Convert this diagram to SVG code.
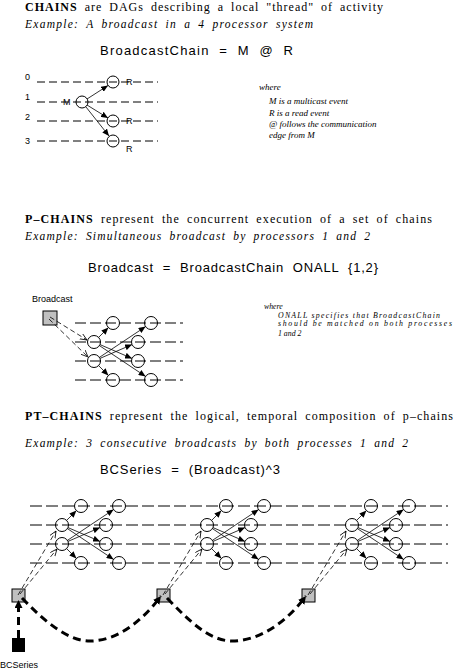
<svg xmlns="http://www.w3.org/2000/svg" xmlns:xlink="http://www.w3.org/1999/xlink" width="458" height="669" viewBox="0 0 458 669">
<style>
.hd{font-family:"Liberation Serif",serif;font-size:12px;fill:#000;word-spacing:3px}
.ex{font-family:"Liberation Serif",serif;font-style:italic;font-size:11.5px;fill:#000;word-spacing:3px}
.fm{font-family:"Liberation Sans",Arial,sans-serif;font-size:13px;fill:#000;white-space:pre}
.sm{font-family:"Liberation Sans",Arial,sans-serif;font-size:9px;fill:#000}
.wh{font-family:"Liberation Serif",serif;font-style:italic;font-size:9px;fill:#000}
.wh2{font-family:"Liberation Serif",serif;font-style:italic;font-size:7.8px;fill:#000}
.row{stroke:#000;stroke-width:1;fill:none}
.ev{stroke:#000;stroke-width:1;fill:none}
.arr{stroke:#000;stroke-width:0.8;fill:none;marker-end:url(#ah)}
.darr{stroke:#000;stroke-width:0.8;fill:none;stroke-dasharray:5 3;marker-end:url(#oh)}
.thick{stroke:#000;stroke-width:3;fill:none;stroke-dasharray:8 5;marker-end:url(#bh)}
.box{fill:#c0c0c0;stroke:#000;stroke-width:1}
</style>
<defs>
<marker id="ah" markerUnits="userSpaceOnUse" markerWidth="8" markerHeight="6" refX="7" refY="3" orient="auto"><path d="M0,0 L7,3 L0,6 z" fill="#000"/></marker>
<marker id="oh" markerUnits="userSpaceOnUse" markerWidth="9" markerHeight="8" refX="7" refY="3" orient="auto"><path d="M0,0 L7,3 L0,6" fill="none" stroke="#000" stroke-width="0.8"/></marker>
<marker id="bh" markerUnits="userSpaceOnUse" markerWidth="10" markerHeight="8" refX="8" refY="4" orient="auto"><path d="M0,0 L8,4 L0,8 z" fill="#000"/></marker>
<g id="pchainTpl">
<g class="ev"><circle cx="19" cy="-19" r="6.5"/><circle cx="57" cy="-19" r="6.5"/><circle cx="0" cy="0" r="6.5"/><circle cx="44" cy="0" r="6.5"/><circle cx="0" cy="19" r="6.5"/><circle cx="44" cy="19" r="6.5"/><circle cx="19" cy="38" r="6.5"/><circle cx="57" cy="38" r="6.5"/></g>
<g>
<line class="arr" x1="4.6" y1="-4.6" x2="14.4" y2="-14.4"/>
<line class="arr" x1="6" y1="2.6" x2="38" y2="16.4"/>
<line class="arr" x1="5.4" y1="3.6" x2="51.6" y2="34.4"/>
<line class="arr" x1="4.6" y1="23.6" x2="14.4" y2="33.4"/>
<line class="arr" x1="6" y1="16.4" x2="38" y2="2.6"/>
<line class="arr" x1="5.4" y1="15.4" x2="51.6" y2="-15.4"/>
</g>
</g>
</defs>
<rect width="458" height="669" fill="#fff"/>

<!-- Section 1 -->
<text class="hd" x="25" y="11" textLength="358" lengthAdjust="spacing"><tspan font-weight="bold">CHAINS</tspan> are DAGs describing a local "thread" of activity</text>
<text class="ex" x="25" y="28" textLength="288" lengthAdjust="spacing">Example:  A broadcast in a 4 processor system</text>
<text class="fm" x="100" y="55" textLength="193" lengthAdjust="spacing" xml:space="preserve">BroadcastChain  =  M  @  R</text>

<g id="chain1-rows">
<line class="row" x1="37" y1="82" x2="158" y2="82" stroke-dasharray="8 4"/>
<line class="row" x1="37" y1="102" x2="158" y2="102" stroke-dasharray="8 4"/>
<line class="row" x1="37" y1="121" x2="158" y2="121" stroke-dasharray="8 4"/>
<line class="row" x1="37" y1="141" x2="158" y2="141" stroke-dasharray="8 4"/>
<text class="sm" x="25" y="80">0</text>
<text class="sm" x="25" y="100">1</text>
<text class="sm" x="25" y="120">2</text>
<text class="sm" x="25" y="144">3</text>
</g>
<g id="M"><circle class="ev" cx="82" cy="102" r="6"/><text class="sm" x="63" y="105" font-size="8">M</text></g>
<g id="R0"><circle class="ev" cx="113" cy="82" r="6"/><text class="sm" x="126" y="85" font-size="8">R</text></g>
<g id="R2"><circle class="ev" cx="113" cy="121" r="6"/><text class="sm" x="126" y="124" font-size="8">R</text></g>
<g id="R3"><circle class="ev" cx="113" cy="141" r="6"/><text class="sm" x="126" y="152" font-size="8">R</text></g>
<g id="chain1-edges">
<line class="arr" x1="87" y1="99" x2="108" y2="85.5"/>
<line class="arr" x1="87" y1="105" x2="108" y2="118"/>
<line class="arr" x1="86" y1="107" x2="109" y2="136"/>
</g>
<g id="where1">
<text class="wh" x="259" y="90">where</text>
<text class="wh" x="269" y="104">M is a multicast event</text>
<text class="wh" x="269" y="116">R is a read event</text>
<text class="wh" x="269" y="127">@  follows the communication</text>
<text class="wh" x="269" y="138">edge from M</text>
</g>

<!-- Section 2 -->
<text class="hd" x="25" y="223" textLength="407" lengthAdjust="spacing"><tspan font-weight="bold">P–CHAINS</tspan>  represent the concurrent execution of a set of chains</text>
<text class="ex" x="25" y="240" textLength="345" lengthAdjust="spacing">Example:  Simultaneous broadcast by processors 1 and 2</text>
<text class="fm" x="88" y="272" textLength="290" lengthAdjust="spacing" xml:space="preserve">Broadcast  =  BroadcastChain  ONALL  {1,2}</text>

<g id="broadcast-box">
<text class="sm" x="32" y="302">Broadcast</text>
<rect class="box" x="43" y="311" width="14" height="14"/>
</g>
<g id="pchain-rows">
<line class="row" x1="75" y1="323" x2="183" y2="323" stroke-dasharray="11 4"/>
<line class="row" x1="75" y1="342" x2="183" y2="342" stroke-dasharray="11 4"/>
<line class="row" x1="75" y1="361" x2="183" y2="361" stroke-dasharray="11 4"/>
<line class="row" x1="75" y1="380" x2="183" y2="380" stroke-dasharray="11 4"/>
</g>
<g id="pchain"><use xlink:href="#pchainTpl" transform="translate(94,342)"/></g>
<g id="pchain-links">
<line class="darr" x1="50" y1="317" x2="87" y2="340"/>
<line class="darr" x1="49" y1="319" x2="88" y2="357"/>
</g>
<g id="where2">
<text class="wh2" x="264" y="308.5">where</text>
<text class="wh2" x="278" y="317.5" textLength="162" lengthAdjust="spacing">ONALL specifies that BroadcastChain</text>
<text class="wh2" x="278" y="326" textLength="174" lengthAdjust="spacing">should be matched on both processes</text>
<text class="wh2" x="278" y="336">1 and 2</text>
</g>

<!-- Section 3 -->
<text class="hd" x="25" y="420" textLength="428" lengthAdjust="spacing"><tspan font-weight="bold">PT–CHAINS</tspan>  represent the logical, temporal composition of p–chains</text>
<text class="ex" x="25" y="447" textLength="383" lengthAdjust="spacing">Example:  3 consecutive broadcasts by both processes 1 and 2</text>
<text class="fm" x="100" y="474" textLength="180" lengthAdjust="spacing" xml:space="preserve">BCSeries  =  (Broadcast)^3</text>

<g id="ptchain-rows">
<line class="row" x1="30" y1="506" x2="448" y2="506" stroke-dasharray="12 4"/>
<line class="row" x1="30" y1="525" x2="448" y2="525" stroke-dasharray="12 4"/>
<line class="row" x1="30" y1="544" x2="448" y2="544" stroke-dasharray="12 4"/>
<line class="row" x1="30" y1="563" x2="448" y2="563" stroke-dasharray="12 4"/>
</g>
<g id="pchain-a"><use xlink:href="#pchainTpl" transform="translate(62,525)"/></g>
<g id="pchain-b"><use xlink:href="#pchainTpl" transform="translate(207,525)"/></g>
<g id="pchain-c"><use xlink:href="#pchainTpl" transform="translate(352,525)"/></g>

<g id="box-a"><rect class="box" x="12" y="589" width="13" height="13"/></g>
<g id="box-b"><rect class="box" x="157" y="589" width="13" height="13"/></g>
<g id="box-c"><rect class="box" x="302" y="589" width="13" height="13"/></g>
<g id="bcseries"><rect x="12" y="638" width="13" height="14" fill="#000"/><text class="sm" x="0" y="668">BCSeries</text></g>

<g id="ptchain-links">
<line class="darr" x1="18" y1="595" x2="56" y2="531"/>
<line class="darr" x1="20" y1="594" x2="57" y2="549"/>
<line class="darr" x1="163" y1="595" x2="201" y2="531"/>
<line class="darr" x1="165" y1="594" x2="202" y2="549"/>
<line class="darr" x1="308" y1="595" x2="346" y2="531"/>
<line class="darr" x1="310" y1="594" x2="347" y2="549"/>
<path class="thick" d="M18.5 638 L18.5 600"/>
<path class="thick" d="M22 598 C45 622 68 641 90 641 C115 641 140 624 161 596"/>
<path class="thick" d="M167 598 C190 622 210 641 232 641 C258 641 285 624 306 596"/>
</g>
</svg>
